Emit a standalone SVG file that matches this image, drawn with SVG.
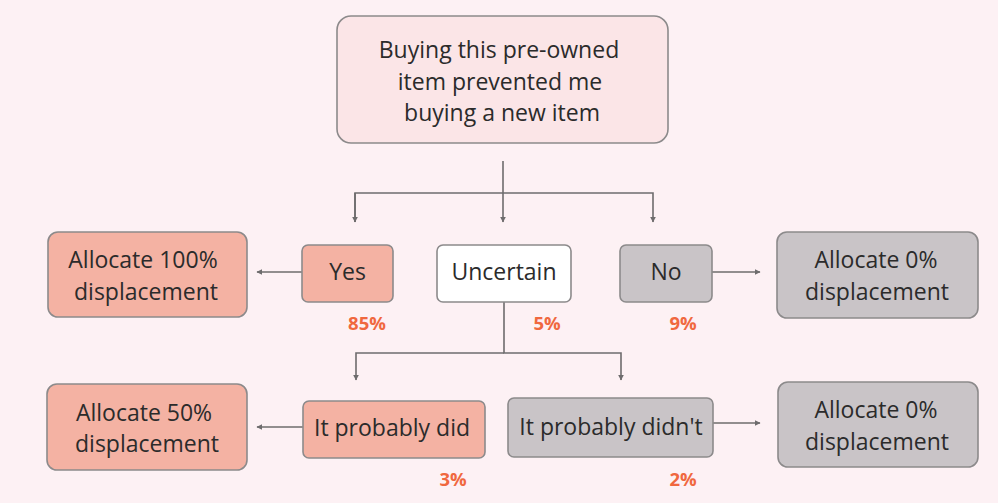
<svg xmlns="http://www.w3.org/2000/svg" width="998" height="503" viewBox="0 0 998 503">
  <style>
    .box { stroke: #8c8a8b; stroke-width: 1.6; }
    .pink { fill: #f4b2a3; }
    .grey { fill: #c9c4c7; }
    .white { fill: #ffffff; }
    .top { fill: #fbe5e7; }
    .lbl { font-family: "Open Sans", "Liberation Sans", sans-serif; font-size: 23px; fill: #2b2b2b; text-anchor: middle; }
    .pct { font-family: "Open Sans", "Liberation Sans", sans-serif; font-size: 18.5px; font-weight: bold; fill: #f0683f; text-anchor: middle; }
    .wire { fill: none; stroke: #6e6c6d; stroke-width: 1.6; }
  </style>
  <defs>
    <marker id="arrow" viewBox="0 0 10 10" refX="9" refY="5" markerWidth="6" markerHeight="6" markerUnits="userSpaceOnUse" orient="auto">
      <path d="M0,0 L10,5 L0,10 z" fill="#6e6c6d"/>
    </marker>
  </defs>

  <rect x="0" y="0" width="998" height="503" fill="#fdf1f4"/>

  <g id="connectors">
    <path class="wire" d="M503,161 V222" marker-end="url(#arrow)"/>
    <path class="wire" d="M355,222 V193 H653 V222" marker-end="url(#arrow)"/>
    <path class="wire" d="M355,193 V222" marker-end="url(#arrow)"/>
    <path class="wire" d="M302,272 H257" marker-end="url(#arrow)"/>
    <path class="wire" d="M712,272 H760" marker-end="url(#arrow)"/>
    <path class="wire" d="M504,302 V353 H621 V380" marker-end="url(#arrow)"/>
    <path class="wire" d="M504,353 H356 V380" marker-end="url(#arrow)"/>
    <path class="wire" d="M303,427 H257" marker-end="url(#arrow)"/>
    <path class="wire" d="M713,423 H760" marker-end="url(#arrow)"/>
  </g>

  <g id="question">
    <rect class="box top" x="337" y="16" width="331" height="127" rx="14"/>
    <text class="lbl" x="499" y="58">Buying this pre-owned</text>
    <text class="lbl" x="500" y="90">item prevented me</text>
    <text class="lbl" x="502" y="121">buying a new item</text>
  </g>

  <g id="yes">
    <rect class="box pink" x="302" y="245" width="91" height="57" rx="6"/>
    <text class="lbl" x="347.5" y="280">Yes</text>
    <text class="pct" x="367" y="330">85%</text>
  </g>

  <g id="uncertain">
    <rect class="box white" x="437" y="245" width="134" height="57" rx="6"/>
    <text class="lbl" x="504" y="280">Uncertain</text>
    <text class="pct" x="547" y="330">5%</text>
  </g>

  <g id="no">
    <rect class="box grey" x="620" y="245" width="92" height="57" rx="6"/>
    <text class="lbl" x="666" y="280">No</text>
    <text class="pct" x="683" y="330">9%</text>
  </g>

  <g id="allocate-100">
    <rect class="box pink" x="48" y="232" width="199" height="85" rx="10"/>
    <text class="lbl" x="143" y="268">Allocate 100%</text>
    <text class="lbl" x="146" y="300">displacement</text>
  </g>

  <g id="allocate-0-top">
    <rect class="box grey" x="777" y="232" width="201" height="86" rx="10"/>
    <text class="lbl" x="876" y="268">Allocate 0%</text>
    <text class="lbl" x="877" y="300">displacement</text>
  </g>

  <g id="probably-did">
    <rect class="box pink" x="303" y="401" width="182" height="57" rx="6"/>
    <text class="lbl" x="392" y="436">It probably did</text>
    <text class="pct" x="453" y="486">3%</text>
  </g>

  <g id="probably-didnt">
    <rect class="box grey" x="508" y="398" width="205" height="59" rx="6"/>
    <text class="lbl" x="611" y="435">It probably didn't</text>
    <text class="pct" x="683" y="486">2%</text>
  </g>

  <g id="allocate-50">
    <rect class="box pink" x="47" y="384" width="200" height="86" rx="10"/>
    <text class="lbl" x="144" y="421">Allocate 50%</text>
    <text class="lbl" x="147" y="452">displacement</text>
  </g>

  <g id="allocate-0-bottom">
    <rect class="box grey" x="778" y="382" width="200" height="85" rx="10"/>
    <text class="lbl" x="876" y="418">Allocate 0%</text>
    <text class="lbl" x="877" y="450">displacement</text>
  </g>
</svg>
